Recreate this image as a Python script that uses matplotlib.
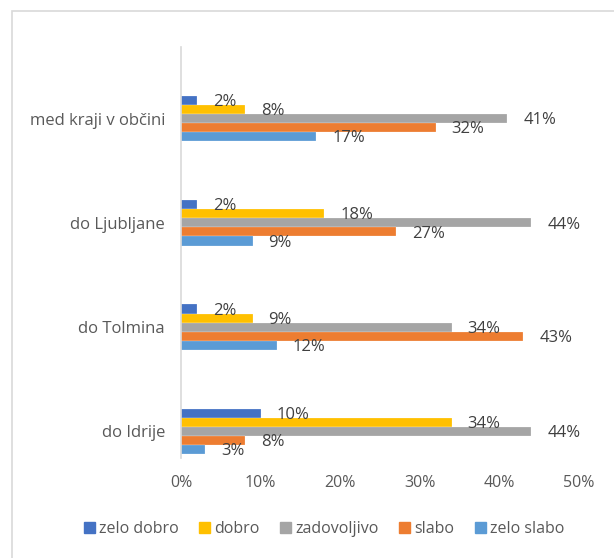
import matplotlib
matplotlib.use("Agg")
import matplotlib.pyplot as plt
from matplotlib.patches import Rectangle
import numpy as np

plt.rcParams['font.family'] = ['Open Sans', 'DejaVu Sans']

categories = ["do Idrije", "do Tolmina", "do Ljubljane", "med kraji v občini"]
series = ["zelo dobro", "dobro", "zadovoljivo", "slabo", "zelo slabo"]
colors = ["#4472C4", "#FFC000", "#A5A5A5", "#ED7D31", "#5B9BD5"]
values = {
    "zelo dobro":  [10, 2, 2, 2],
    "dobro":       [34, 9, 18, 8],
    "zadovoljivo": [44, 34, 44, 41],
    "slabo":       [8, 43, 27, 32],
    "zelo slabo":  [3, 12, 9, 17],
}
xticks = [0, 10, 20, 30, 40, 50]

W, H = 614, 558
fig = plt.figure(figsize=(W / 100, H / 100), dpi=100)

ax_l, ax_r, ax_t, ax_b = 181, 579, 47, 458
ax = fig.add_axes([ax_l / W, 1 - ax_b / H, (ax_r - ax_l) / W, (ax_b - ax_t) / H])

unit = 104.3  # px per category
ax.set_ylim(-26.5 / unit, 3 + 71.5 / unit)
ax.set_xlim(0, 50)

bh = 9.1 / unit
y = np.arange(len(categories))
for i, s in enumerate(series):
    off = (2 - i) * bh
    vals = values[s]
    ax.barh(y + off, vals, height=bh, color=colors[i], edgecolor='white', linewidth=0.15)
    for yy, v in zip(y + off, vals):
        ax.annotate(f"{v}%", xy=(v, yy), xytext=(11.5, -1.2), textcoords='offset points',
                    ha='left', va='center', fontsize=12, color='#404040')

ax.set_yticks(y)
ax.set_yticklabels(categories, fontsize=12, color='#595959')
ax.set_xticks(xticks)
ax.set_xticklabels([f"{t}%" for t in xticks], fontsize=11.5, color='#595959')
ax.tick_params(axis='y', length=0, pad=11.5)
ax.tick_params(axis='x', length=0, pad=12)

for sp in ['top', 'right', 'bottom']:
    ax.spines[sp].set_visible(False)
ax.spines['left'].set_color('#D9D9D9')
ax.spines['left'].set_linewidth(1.2)

handles = [Rectangle((0, 0), 1, 1, color=c) for c in colors]
leg = fig.legend(handles, series, loc='center', bbox_to_anchor=(324 / W, 1 - 529 / H),
                 ncol=5, frameon=False, fontsize=11.5, handlelength=0.69, handleheight=0.69,
                 handletextpad=0.25, columnspacing=1.3, borderpad=0)
for t in leg.get_texts():
    t.set_color('#595959')

fig.add_artist(Rectangle((11.5 / W, -0.1), 1.2, 1.1 - 11.5 / H, transform=fig.transFigure,
                         fill=False, edgecolor='#D9D9D9', linewidth=1.2))

fig.savefig("out.png", dpi=100)
